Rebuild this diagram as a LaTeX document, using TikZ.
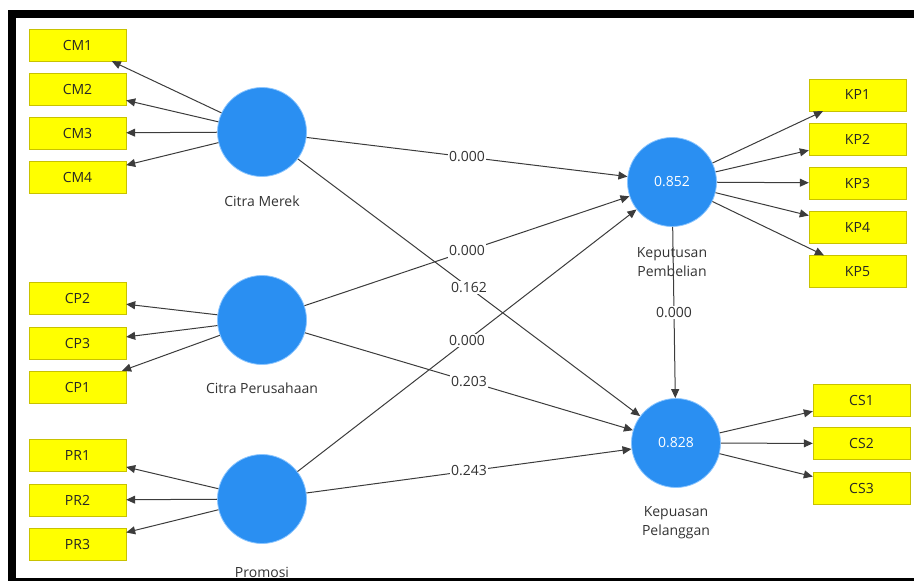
\documentclass[tikz,border=0pt]{standalone}
\usepackage{fontspec}
\setmainfont{Open Sans}
\usetikzlibrary{arrows.meta,positioning}
\definecolor{plsblue}{HTML}{2A8FF2}
\definecolor{plsring}{HTML}{8CC6FF}
\definecolor{plsyellow}{HTML}{FFFF00}
\definecolor{plsedge}{HTML}{C8C200}
\definecolor{plsline}{HTML}{3C3C3C}
\definecolor{plstext}{HTML}{333333}

\begin{document}
\begin{tikzpicture}[x=1pt,y=-1pt,
  ind/.style={draw=plsedge,fill=plsyellow,minimum width=97pt,minimum height=32pt,inner sep=0pt,text=black!85,font=\fontsize{14}{16}\selectfont},
  lv/.style={circle,draw=plsring,line width=.8pt,fill=plsblue,minimum size=89pt,inner sep=0pt,text=white,font=\fontsize{14}{16}\selectfont},
  lvname/.style={text=plstext,align=center,font=\fontsize{14}{19}\selectfont},
  arr/.style={draw=plsline,line width=1pt,-{Triangle[length=9pt,width=8pt]}},
  coef/.style={fill=white,inner sep=1.5pt,text=plstext,font=\fontsize{14}{16}\selectfont}]
\useasboundingbox (0,0) rectangle (914,581);
% frame
\fill (8,10) rectangle (914,18);
\fill (8,10) rectangle (16,581);
\fill (8,578) rectangle (914,581);
% latent variables
\node[lv] (CM) at (262,132) {};
\node[lv] (CP) at (262,320) {};
\node[lv] (PR) at (262,499) {};
\node[lv] (KP) at (672,182) {0.852};
\node[lv] (KS) at (676,443) {0.828};
\node[lvname] (CMname) at (262,201) {Citra Merek};
\node[lvname] (CPname) at (262,388) {Citra Perusahaan};
\node[lvname] (PRname) at (262,572) {Promosi};
\node[lvname] (KPname) at (672,262) {Keputusan\\Pembelian};
\node[lvname] (KSname) at (676,523) {Kepuasan\\Pelanggan};
% indicators
\foreach \n/\y in {1/45,2/89,3/133,4/177}{
  \node[ind] (CM\n) at (77.5,\y) {CM\n};
  \draw[arr] (CM) -- (CM\n);}
\foreach \n/\y in {2/298.5,3/343,1/387}{
  \node[ind] (CP\n) at (77.5,\y) {CP\n};
  \draw[arr] (CP) -- (CP\n);}
\foreach \n/\y in {1/455.5,2/500,3/544.5}{
  \node[ind] (PR\n) at (77.5,\y) {PR\n};
  \draw[arr] (PR) -- (PR\n);}
\foreach \n/\y in {1/95,2/139,3/183,4/227.5,5/271.5}{
  \node[ind] (KP\n) at (857.5,\y) {KP\n};
  \draw[arr] (KP) -- (KP\n);}
\foreach \n/\y in {1/400,2/443.5,3/488.5}{
  \node[ind] (CS\n) at (861.5,\y) {CS\n};
  \draw[arr] (KS) -- (CS\n);}
% inner model
\draw[arr] (CM) -- node[coef] (c1) {0.000} (KP);
\draw[arr] (CP) -- node[coef] (c2) {0.000} (KP);
\draw[arr] (CM) -- node[coef] (c3) {0.162} (KS);
\draw[arr] (PR) -- node[coef] (c4) {0.000} (KP);
\draw[arr] (CP) -- node[coef] (c5) {0.203} (KS);
\draw[arr] (PR) -- node[coef] (c6) {0.243} (KS);
\draw[arr] (KP) -- node[coef] (c7) {0.000} (KS);
\end{tikzpicture}
\end{document}
